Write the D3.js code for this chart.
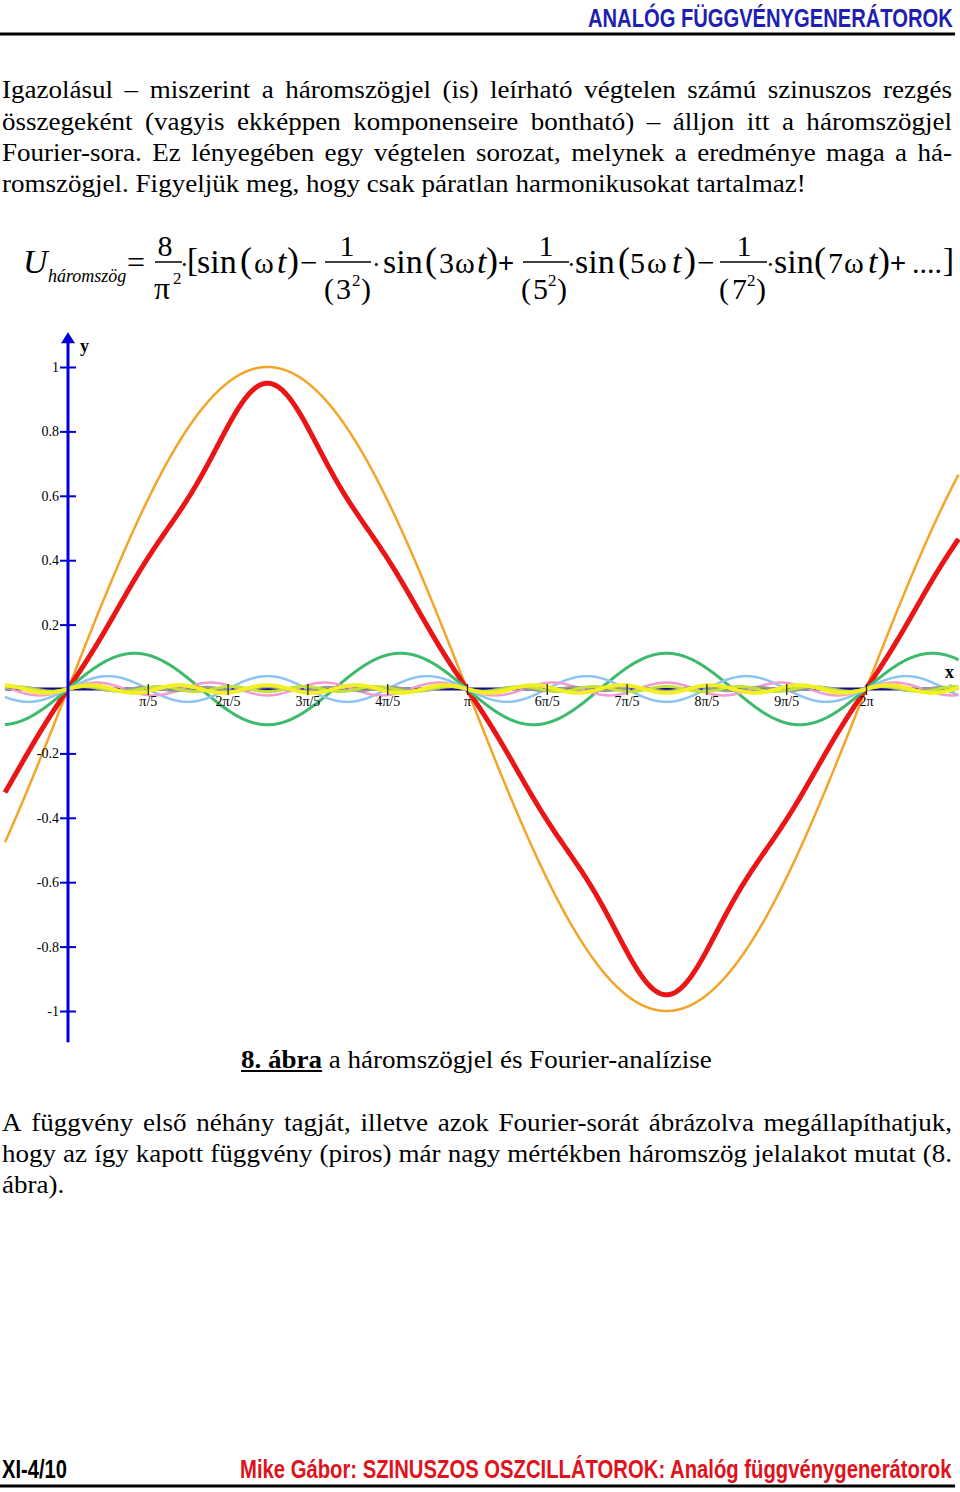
<!DOCTYPE html>
<html>
<head>
<meta charset="utf-8">
<script src="https://cdn.jsdelivr.net/npm/d3@7/dist/d3.min.js"></script>
<style>
  html, body { margin: 0; padding: 0; background: #fff; }
  svg { display: block; }
</style>
</head>
<body>
<svg id="page" width="960" height="1492"></svg>
<script>
// ---------------- DATA ----------------
const PI = Math.PI;
// x ticks: multiples of π/5
const xTickMultiples = [1, 2, 3, 4, 5, 6, 7, 8, 9, 10];
const xTickLabels = ["π/5", "2π/5", "3π/5", "4π/5", "π", "6π/5", "7π/5", "8π/5", "9π/5", "2π"];
const yTickValues = [1, 0.8, 0.6, 0.4, 0.2, -0.2, -0.4, -0.6, -0.8, -1];
const yTickLabels = ["1", "0.8", "0.6", "0.4", "0.2", "-0.2", "-0.4", "-0.6", "-0.8", "-1"];
// individual harmonic components drawn (order n, amplitude)
const harmonicOrders = [1, 3, 5, 7, 13, 11, 9];
const harmonicAmplitudes = [1.0, 0.111, 0.040, 0.020, 0.006, 0.008, 0.012];
// Fourier sum of the triangle (red): 8/π² · Σ ±sin(nωt)/n²
const sumOrders = [1, 3, 5, 7];
const sumCoefficients = [0.8106, -0.0901, 0.0324, -0.0165];
// plotted domain of ωt (in units of π)
const tRangePi = [-0.158, 2.232];

// styles (kept apart from data)
const harmonicColors = ["#f4a428", "#3dba6a", "#8cc4f2", "#f29ad2", "#9a9a9a", "#c4e03c", "#f2f022"];
const harmonicWidths = [2.5, 3, 2.5, 2.5, 2.5, 3, 4];

const svg = d3.select("#page");
svg.append("rect").attr("width", 960).attr("height", 1492).attr("fill", "#fff");

const SERIF = "'Liberation Serif', 'Times New Roman', Times, serif";
const NARROW = "'Liberation Sans Narrow', 'Arial Narrow', 'Liberation Sans', Arial, sans-serif";

// ---------------- HEADER / FOOTER ----------------
// text fitted to a target width by horizontal scaling (keeps real bounding box)
function fittedText(str, x0, width, y, color) {
  const g = svg.append("g");
  const t = g.append("text").attr("x", 0).attr("y", 0)
    .style("font-family", NARROW).style("font-weight", "bold").style("font-size", "26px")
    .attr("fill", color).text(str);
  const w = t.node().getComputedTextLength();
  g.attr("transform", `translate(${x0},${y}) scale(${width / w},1)`);
}
fittedText("ANALÓG FÜGGVÉNYGENERÁTOROK", 588, 365, 27, "#1f1fb0");
svg.append("line").attr("x1", 0).attr("x2", 955).attr("y1", 34).attr("y2", 34)
  .attr("stroke", "#000").attr("stroke-width", 3);

fittedText("XI-4/10", 2, 65, 1478, "#000");
fittedText("Mike Gábor: SZINUSZOS OSZCILLÁTOROK: Analóg függvénygenerátorok", 240, 712, 1478, "#e0121c");
svg.append("line").attr("x1", 0).attr("x2", 955).attr("y1", 1486).attr("y2", 1486)
  .attr("stroke", "#000").attr("stroke-width", 3);

// ---------------- BODY TEXT ----------------
const BODY_SIZE = 26;
// horizontal stretch so that the last (natural) line matches the reference width
let SX = 1;
{
  const probe = svg.append("text").style("font-family", SERIF).style("font-size", BODY_SIZE + "px")
    .text("romszögjel. Figyeljük meg, hogy csak páratlan harmonikusokat tartalmaz!");
  SX = 804 / probe.node().getComputedTextLength();
  probe.remove();
}
const body = svg.append("g").attr("transform", `scale(${SX},1)`);
function textLine(text, x0, x1, y, justify) {
  const t = body.append("text").attr("y", y)
    .style("font-family", SERIF).style("font-size", BODY_SIZE + "px").attr("fill", "#000");
  if (!justify) { t.attr("x", x0 / SX).text(text); return; }
  const words = text.split(" ");
  const spans = words.map(w => t.append("tspan").text(w));
  const widths = spans.map(s => s.node().getComputedTextLength());
  const total = d3.sum(widths);
  const gap = ((x1 - x0) / SX - total) / (words.length - 1);
  let x = x0 / SX;
  spans.forEach((s, i) => { s.attr("x", x); x += widths[i] + gap; });
}
textLine("Igazolásul – miszerint a háromszögjel (is) leírható végtelen számú szinuszos rezgés", 2, 952, 98, true);
textLine("összegeként (vagyis ekképpen komponenseire bontható) – álljon itt a háromszögjel", 2, 952, 130, true);
textLine("Fourier-sora. Ez lényegében egy végtelen sorozat, melynek a eredménye maga a há-", 2, 952, 161, true);
textLine("romszögjel. Figyeljük meg, hogy csak páratlan harmonikusokat tartalmaz!", 2, 806, 192, false);

textLine("A függvény első néhány tagját, illetve azok Fourier-sorát ábrázolva megállapíthatjuk,", 2, 952, 1131, true);
textLine("hogy az így kapott függvény (piros) már nagy mértékben háromszög jelalakot mutat (8.", 2, 952, 1162, true);
textLine("ábra).", 2, 80, 1193, false);

// caption
{
  const cap = body.append("text").attr("x", 241 / SX).attr("y", 1068)
    .style("font-family", SERIF).style("font-size", BODY_SIZE + "px").attr("fill", "#000");
  const b = cap.append("tspan").style("font-weight", "bold").text("8. ábra");
  cap.append("tspan").text(" a háromszögjel és Fourier-analízise");
  const bw = b.node().getComputedTextLength();
  body.append("line").attr("x1", 241 / SX).attr("x2", 241 / SX + bw).attr("y1", 1071).attr("y2", 1071)
    .attr("stroke", "#000").attr("stroke-width", 1.8);
}

// ---------------- FORMULA ----------------
const F = svg.append("g").style("font-family", SERIF).attr("fill", "#000");
const MB = 273, NUM = 256, DEN = 299, BAR = 262, FS = 34;
function ft(s, x, y, size, opts = {}) {
  const t = F.append("text").attr("x", x).attr("y", y).style("font-size", size + "px").text(s);
  if (opts.italic) t.style("font-style", "italic");
  if (opts.bold) t.style("font-weight", "bold");
  if (opts.anchor) t.attr("text-anchor", opts.anchor);
  return t;
}
function bar(x1, x2) {
  F.append("line").attr("x1", x1).attr("x2", x2).attr("y1", BAR).attr("y2", BAR)
    .attr("stroke", "#000").attr("stroke-width", 1.5);
}
const OP = (x) => ft("(", x, 272, 36);
const CP = (x) => ft(")", x, 272, 36);
const DOP = (x) => ft("(", x, 299, 30);
const DCP = (x) => ft(")", x, 299, 30);
const OM = (x) => ft("ω", x, MB, 30);
const TT = (x) => ft("t", x, MB, FS, { italic: true });
const DOT = (x) => ft("·", x, MB, 26);

ft("U", 23, MB, 34, { italic: true });
ft("háromszög", 48, 282, 18, { italic: true });
ft("=", 127, MB, 32);
ft("8", 165, NUM, 30, { anchor: "middle" });
bar(155, 182);
ft("π", 154, DEN, 32);
ft("2", 173, 284, 17);
DOT(180);
ft("[", 187, 271, 33);
ft("sin", 197, MB, FS);
OP(240); OM(254); TT(277); CP(287);
ft("−", 300, MB, 31);
// 1/(3²)
ft("1", 347, NUM, 30, { anchor: "middle" });
bar(325, 371);
DOP(324); ft("3", 336, DEN, 30); ft("2", 352, 286, 17); DCP(361);
DOT(372); ft("sin", 383, MB, FS);
OP(425); ft("3", 439, MB, 30); OM(455); TT(477); CP(486);
ft("+", 506, MB, 29, { bold: true, anchor: "middle" });
// 1/(5²)
ft("1", 546, NUM, 30, { anchor: "middle" });
bar(523, 569);
DOP(521); ft("5", 533, DEN, 30); ft("2", 548, 286, 17); DCP(557);
DOT(567); ft("sin", 575, MB, FS);
OP(618); ft("5", 630, MB, 30); OM(647); TT(672); CP(684);
ft("−", 697, MB, 31);
// 1/(7²)
ft("1", 744, NUM, 30, { anchor: "middle" });
bar(720, 767);
DOP(719); ft("7", 732, DEN, 30); ft("2", 747, 286, 17); DCP(756);
DOT(766); ft("sin", 774, MB, FS);
OP(814); ft("7", 828, MB, 30); OM(844); TT(868); CP(878);
ft("+", 898, MB, 29, { bold: true, anchor: "middle" });
ft("....", 912, MB, 30);
ft("]", 943, 271, 33);

// ---------------- CHART ----------------
const x = d3.scaleLinear().domain([0, 2 * PI]).range([68, 866]);
const y = d3.scaleLinear().domain([-1, 1]).range([1011, 367]);
const chart = svg.append("g");

// x axis line (under curves)
const xLeft = x(tRangePi[0] * PI), xRight = x(tRangePi[1] * PI);
chart.append("line").attr("x1", xLeft).attr("x2", xRight - 4).attr("y1", y(0)).attr("y2", y(0))
  .attr("stroke", "#101080").attr("stroke-width", 3);
chart.append("path")
  .attr("d", `M${xRight},${y(0)} L${xRight - 9},${y(0) - 5} L${xRight - 9},${y(0) + 5} Z`)
  .attr("fill", "#6f86c8");

const samples = d3.range(tRangePi[0] * PI, tRangePi[1] * PI + 0.0001, 0.004);
const line = d3.line().x(d => x(d[0])).y(d => y(d[1]));

function harmonicPts(i) {
  return samples.map(t => [t, harmonicAmplitudes[i] * Math.sin(harmonicOrders[i] * t)]);
}
const sumPts = samples.map(t => [t, d3.sum(sumOrders, (n, k) => sumCoefficients[k] * Math.sin(n * t))]);

// orange fundamental
chart.append("path").attr("d", line(harmonicPts(0))).attr("fill", "none")
  .attr("stroke", harmonicColors[0]).attr("stroke-width", harmonicWidths[0]);
// red sum
chart.append("path").attr("d", line(sumPts)).attr("fill", "none")
  .attr("stroke", "#ea1515").attr("stroke-width", 5).attr("stroke-linejoin", "round");
// remaining harmonics
for (let i = 1; i < harmonicOrders.length; i++) {
  chart.append("path").attr("d", line(harmonicPts(i))).attr("fill", "none")
    .attr("stroke", harmonicColors[i]).attr("stroke-width", harmonicWidths[i]);
}

// x ticks & labels
const xAxis = d3.axisBottom(x)
  .tickValues(xTickMultiples.map(m => m * PI / 5))
  .tickFormat((d, i) => xTickLabels[i])
  .tickSizeInner(6).tickSizeOuter(0).tickPadding(3);
const gx = chart.append("g").attr("transform", `translate(0,${y(0)})`).call(xAxis);
gx.select(".domain").remove();
gx.selectAll(".tick line").attr("y1", -5).attr("y2", 6).attr("stroke", "#222").attr("stroke-width", 1.3);
gx.selectAll(".tick text").style("font-family", SERIF).style("font-size", "14px").attr("fill", "#000")
  .attr("y", 7);

// y axis
const yAxis = d3.axisLeft(y).tickValues(yTickValues)
  .tickFormat((d, i) => yTickLabels[i]).tickSizeInner(8).tickSizeOuter(0).tickPadding(2);
const gy = chart.append("g").attr("transform", `translate(${x(0)},0)`).call(yAxis);
gy.select(".domain").remove();
gy.selectAll(".tick line").attr("x1", -8).attr("x2", 8).attr("stroke", "#0000d8").attr("stroke-width", 2);
gy.selectAll(".tick text").style("font-family", SERIF).style("font-size", "14px").attr("fill", "#000")
  .attr("x", -9);
chart.append("line").attr("x1", x(0)).attr("x2", x(0)).attr("y1", y(1.09)).attr("y2", y(-1.097))
  .attr("stroke", "#0000d8").attr("stroke-width", 3);
chart.append("path")
  .attr("d", `M${x(0)},${y(1.108)} L${x(0) - 7},${y(1.108) + 11} L${x(0) + 7},${y(1.108) + 11} Z`)
  .attr("fill", "#0000d8");

chart.append("text").attr("x", 80).attr("y", 352).style("font-family", SERIF)
  .style("font-weight", "bold").style("font-size", "18px").text("y");
chart.append("text").attr("x", 945).attr("y", 678).style("font-family", SERIF)
  .style("font-weight", "bold").style("font-size", "18px").text("x");
</script>
</body>
</html>
